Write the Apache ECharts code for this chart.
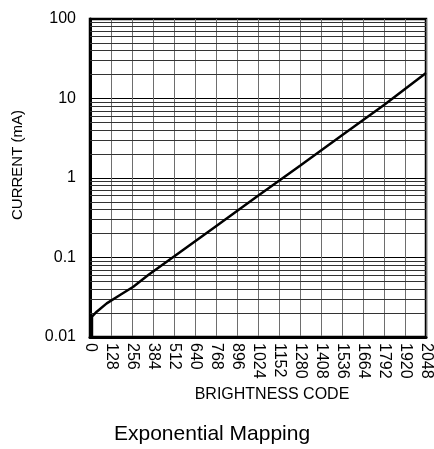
<!DOCTYPE html>
<html>
<head>
<meta charset="utf-8">
<script src="https://cdn.jsdelivr.net/npm/echarts@6/dist/echarts.min.js"></script>
<style>
  html, body { margin: 0; padding: 0; background: #fff; }
  #chart { width: 434px; height: 449px; }
</style>
</head>
<body>
<div id="chart"></div>
<script>
// brightness code vs current
const codes = [12, 12, 41, 102, 183, 264, 355, 512, 768, 1024, 1280, 1536, 1792, 2048];
const currentMA = [0.01, 0.018, 0.0208, 0.0265, 0.0338, 0.0429, 0.0602, 0.103, 0.248, 0.597, 1.43, 3.45, 8.31, 21];

const yTickLabels = { 0.01: '0.01', 0.1: '0.1', 1: '1', 10: '10', 100: '100' };
// log minor grid (2..9 in each decade)
const minorGridValues = [
  0.02, 0.03, 0.04, 0.05, 0.06, 0.07, 0.08, 0.09,
  0.2, 0.3, 0.4, 0.5, 0.6, 0.7, 0.8, 0.9,
  2, 3, 4, 5, 6, 7, 8, 9,
  20, 30, 40, 50, 60, 70, 80, 90
];

const font = 'Liberation Sans, Arial, sans-serif';
const chart = echarts.init(document.getElementById('chart'));

chart.setOption({
  animation: false,
  title: {
    text: 'Exponential Mapping',
    left: 109,
    top: 419,
    textStyle: { fontFamily: font, fontSize: 21, fontWeight: 'normal', color: '#000' }
  },
  grid: {
    left: 90, right: 8, top: 19, bottom: 112,
    show: true, borderColor: '#000', borderWidth: 2.5
  },
  xAxis: {
    type: 'value',
    min: 0, max: 2048, interval: 128,
    name: 'BRIGHTNESS CODE',
    nameLocation: 'middle',
    nameGap: 47,
    nameTextStyle: { fontFamily: font, fontSize: 16, color: '#000', padding: [0, 0, 0, 28] },
    axisLine: { lineStyle: { color: '#000', width: 3 } },
    axisTick: { show: false },
    axisLabel: {
      rotate: -90, margin: 6, fontFamily: font, fontSize: 16, color: '#000',
      formatter: v => String(v)
    },
    splitLine: { show: true, lineStyle: { color: '#6e6e6e', width: 1 } }
  },
  yAxis: {
    type: 'log',
    logBase: 10,
    min: 0.01, max: 100,
    name: 'CURRENT (mA)',
    nameLocation: 'middle',
    nameGap: 65,
    nameTextStyle: { fontFamily: font, fontSize: 15, color: '#000', padding: [0, 0, 0, 26] },
    axisLine: { lineStyle: { color: '#000', width: 3 } },
    axisTick: { show: false },
    axisLabel: {
      margin: 14, fontFamily: font, fontSize: 16, color: '#000',
      formatter: v => yTickLabels[+v.toPrecision(3)] || ''
    },
    splitLine: { show: true, lineStyle: { color: '#000', width: 1.2 } }
  },
  series: [{
    type: 'line',
    data: codes.map((c, i) => [c, currentMA[i]]),
    symbol: 'none',
    lineStyle: { color: '#000', width: 2.5 },
    z: 5,
    markLine: {
      silent: true,
      symbol: 'none',
      label: { show: false },
      lineStyle: { color: '#333', width: 1, type: 'solid' },
      data: minorGridValues.map(v => ({ yAxis: v }))
    }
  }]
});
</script>
</body>
</html>
